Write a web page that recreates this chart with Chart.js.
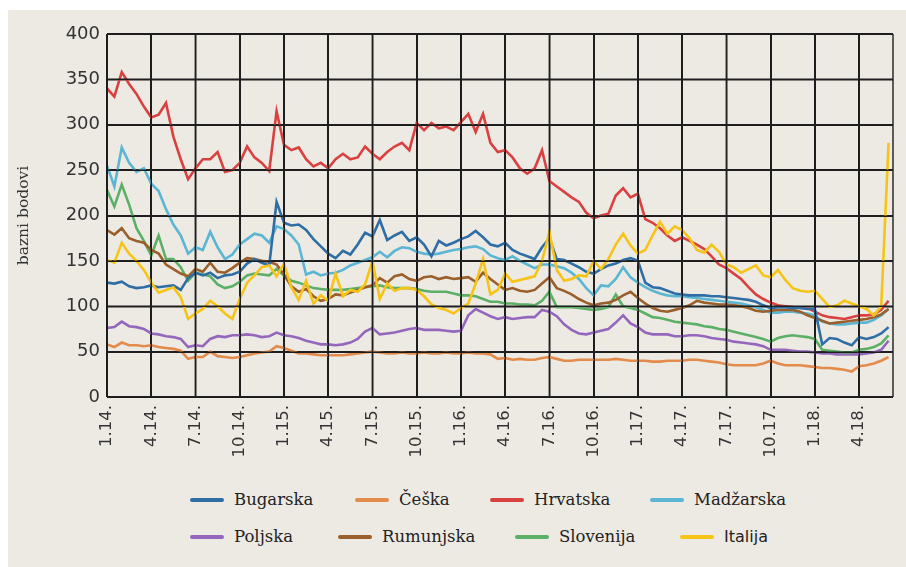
<!DOCTYPE html>
<html lang="hr">
<head>
<meta charset="utf-8">
<title>CDS premije</title>
<script src="https://cdn.jsdelivr.net/npm/chart.js@4.4.1/dist/chart.umd.min.js"></script>
<style>
  html, body { margin: 0; padding: 0; background: #fff; }
  #panel { position: absolute; left: 8px; top: 10px; width: 898px; height: 557px; background: #edeae4; }
  #wrap { position: absolute; left: 0; top: 0; width: 898px; height: 450px; }
  .lg-item {
    position: absolute; height: 20px; display: flex; align-items: center;
    font-family: "DejaVu Serif", serif; font-size: 16.5px; line-height: 20px;
    color: #222; white-space: nowrap;
  }
  .lg-item.sans { font-family: "DejaVu Sans", sans-serif; font-size: 16px; }
  .lg-line { width: 34px; height: 4px; border-radius: 2px; margin-right: 10px; }
</style>
</head>
<body>
<div id="panel">
  <div id="wrap"><canvas id="chart-cds"></canvas></div>
  <div id="legend"></div>
</div>
<script>
/* ── Axis data ───────────────────────────────────────────────── */
// x = months since January 2014, one reading every half month
const MONTHS = Array.from({ length: 107 }, (_, i) => i / 2);
const TICK_LABELS = [
    "1.14.", "4.14.", "7.14.", "10.14.",
    "1.15.", "4.15.", "7.15.", "10.15.",
    "1.16.", "4.16.", "7.16.", "10.16.",
    "1.17.", "4.17.", "7.17.", "10.17.",
    "1.18.", "4.18.",
];

/* ── Series (basis points), rows of five months ─────────────── */
const BUGARSKA = [
    126, 125, 127, 122, 120, 121, 123, 121, 122, 123,
    118, 131, 137, 134, 137, 131, 134, 135, 138, 147,
    152, 148, 145, 215, 192, 189, 190, 184, 174, 166,
    158, 153, 161, 157, 168, 181, 177, 195, 173, 178,
    182, 172, 176, 168, 155, 172, 167, 170, 174, 177,
    183, 176, 168, 166, 170, 162, 158, 155, 152, 165,
    175, 152, 151, 147, 143, 138, 136, 141, 145, 147,
    151, 153, 150, 126, 121, 120, 117, 114, 113, 112,
    112, 112, 111, 111, 110, 109, 108, 107, 105, 101,
    98, 99, 99, 98, 98, 97, 97, 58, 65, 64,
    60, 57, 66, 64, 66, 70, 77,
];
const CESKA = [
    58, 55, 60, 57, 57, 56, 57, 55, 54, 53,
    51, 42, 44, 44, 50, 45, 44, 43, 44, 46,
    48, 49, 50, 56, 54, 51, 48, 48, 47, 46,
    46, 46, 46, 47, 48, 49, 50, 49, 48, 48,
    49, 48, 48, 49, 48, 48, 49, 48, 48, 49,
    48, 48, 47, 42, 43, 41, 42, 41, 41, 43,
    44, 42, 40, 40, 41, 41, 41, 41, 41, 42,
    41, 40, 40, 40, 39, 39, 40, 40, 40, 41,
    41, 40, 39, 38, 36, 35, 35, 35, 35, 37,
    40, 37, 35, 35, 35, 34, 33, 32, 32, 31,
    30, 28, 34, 35, 37, 40, 44,
];
const HRVATSKA = [
    340, 331, 358, 345, 334, 320, 308, 311, 324, 287,
    262, 240, 252, 262, 262, 270, 248, 250, 258, 276,
    264, 258, 249, 315, 278, 272, 275, 262, 254, 258,
    252, 262, 268, 262, 264, 276, 268, 262, 270, 276,
    280, 272, 302, 294, 302, 296, 298, 294, 303, 312,
    292, 312, 280, 270, 272, 264, 252, 246, 252, 272,
    238, 232, 226, 220, 215, 203, 197, 200, 202, 222,
    230, 220, 224, 196, 192, 186, 178, 172, 176, 172,
    168, 163, 155, 146, 142, 136, 130, 121, 113, 108,
    104, 101, 100, 99, 98, 98, 94, 90, 88, 87,
    86, 88, 90, 90, 91, 96, 106,
];
const MADZARSKA = [
    255, 232, 275, 258, 248, 252, 235, 227, 207, 190,
    178, 158, 165, 162, 182, 165, 152, 157, 168, 174,
    180, 178, 170, 188, 185, 178, 168, 135, 138, 134,
    136, 137, 140, 145, 148, 151, 154, 160, 154, 161,
    165, 164, 160, 158, 157, 158, 160, 162, 163, 165,
    166, 163, 156, 153, 151, 155, 150, 146, 142, 146,
    146, 144, 142, 137, 130, 120, 112, 123, 122, 130,
    143, 132, 126, 121, 117, 114, 112, 111, 111, 110,
    109, 108, 107, 106, 105, 104, 103, 101, 99, 96,
    93, 93, 94, 94, 93, 92, 90, 83, 81, 80,
    80, 81, 82, 82, 85, 90, 97,
];
const POLJSKA = [
    76, 77, 83, 78, 77, 75, 70, 69, 67, 66,
    64, 55, 57, 56, 64, 67, 66, 68, 68, 69,
    68, 66, 67, 71, 68, 67, 65, 62, 60, 58,
    58, 57, 58, 60, 64, 72, 76, 69, 70, 71,
    73, 75, 76, 74, 74, 74, 73, 72, 73, 90,
    97, 93, 89, 86, 88, 86, 87, 88, 88, 96,
    94, 89, 80, 74, 70, 69, 71, 73, 75, 82,
    90, 81, 77, 71, 69, 69, 69, 67, 67, 68,
    68, 67, 65, 64, 63, 61, 60, 59, 58, 56,
    52, 52, 52, 51, 50, 50, 49, 48, 48, 47,
    47, 47, 47, 48, 49, 52, 62,
];
const RUMUNJSKA = [
    184, 179, 186, 175, 172, 170, 162, 158, 146, 141,
    136, 133, 141, 138, 148, 138, 137, 142, 148, 153,
    152, 150, 149, 146, 135, 122, 116, 119, 111, 106,
    108, 113, 112, 115, 118, 121, 123, 131, 126, 133,
    135, 130, 128, 132, 133, 130, 132, 130, 131, 132,
    127, 137, 130, 124, 118, 120, 117, 116, 118, 125,
    132, 120, 117, 113, 108, 104, 101, 103, 104, 107,
    112, 116, 109, 103, 98, 95, 94, 96, 98, 101,
    106, 104, 103, 102, 102, 101, 100, 98, 95, 94,
    95, 96, 96, 96, 94, 90, 87, 84, 81, 82,
    83, 84, 85, 86, 88, 91, 97,
];
const SLOVENIJA = [
    228, 210, 234, 212, 186, 172, 156, 178, 152, 152,
    143, 128, 137, 135, 133, 124, 120, 122, 127, 134,
    136, 135, 134, 141, 134, 128, 126, 123, 120, 119,
    118, 118, 118, 119, 120, 121, 122, 123, 121, 120,
    120, 120, 119, 117, 116, 116, 116, 114, 112, 112,
    111, 108, 105, 105, 103, 103, 102, 102, 101, 106,
    116, 99, 99, 99, 98, 97, 96, 97, 99, 113,
    100, 98, 96, 92, 88, 87, 85, 83, 82, 81,
    80, 78, 77, 75, 74, 72, 70, 68, 66, 64,
    61, 65, 67, 68, 67, 66, 64, 52, 51, 50,
    49, 49, 52, 53, 55, 59, 68,
];
const ITALIJA = [
    151, 148, 170, 158, 150, 140, 126, 115, 118, 121,
    110, 86, 92, 97, 106, 100, 92, 86, 108, 126,
    134, 143, 145, 133, 147, 121, 107, 128, 103, 112,
    106, 136, 111, 118, 116, 124, 150, 108, 125, 117,
    120, 120, 118, 111, 102, 98, 96, 92, 98, 103,
    125, 152, 113, 118, 136, 127, 129, 131, 133, 150,
    182, 140, 128, 130, 134, 133, 150, 141, 152, 168,
    180, 167, 158, 162, 178, 193, 180, 188, 184, 175,
    162, 159, 168, 160, 146, 143, 137, 141, 145, 134,
    132, 140, 129, 120, 117, 116, 117, 108, 99, 101,
    106, 103, 100, 97, 90, 100, 280,
];

/* ── Colours ─────────────────────────────────────────────────── */
const GRID_COLOR = "#1e1e1e";
const TICK_COLOR = "#333";

// z: drawing order (lower = on top), lx/ly: legend slot in the panel
const SERIES = [
    { name: "Bugarska",  data: BUGARSKA,  color: "#2f6ea5", z: 1, lx: 182, ly: 480 },
    { name: "Češka",     data: CESKA,     color: "#e38b4b", z: 7, lx: 347, ly: 480 },
    { name: "Hrvatska",  data: HRVATSKA,  color: "#d94141", z: 2, lx: 482, ly: 480 },
    { name: "Madžarska", data: MADZARSKA, color: "#5bb6d3", z: 4, lx: 642, ly: 480 },
    { name: "Poljska",   data: POLJSKA,   color: "#9467bd", z: 6, lx: 182, ly: 517 },
    { name: "Rumunjska", data: RUMUNJSKA, color: "#9a5f2a", z: 3, lx: 330, ly: 517 },
    { name: "Slovenija", data: SLOVENIJA, color: "#5cb066", z: 5, lx: 507, ly: 517 },
    { name: "Italija",   data: ITALIJA,   color: "#f6c416", z: 0, lx: 672, ly: 517, sans: true },
];

/* ── Grid + frame, stroked at the very end ──────────────────── */
// The built-in grid did not survive with all eight datasets here,
// so the lines are stroked last from the scales' own ticks.
const gridOnTop = {
    id: "gridOnTop",
    afterDraw(chart) {
        const { ctx, chartArea: a, scales: { x, y } } = chart;
        ctx.save();
        ctx.strokeStyle = GRID_COLOR;
        ctx.lineWidth = 1.4;
        ctx.beginPath();
        y.ticks.forEach(t => {
            const py = Math.round(y.getPixelForValue(t.value)) + 0.3;
            ctx.moveTo(a.left, py);
            ctx.lineTo(a.right, py);
        });
        x.ticks.forEach(t => {
            const px = Math.round(x.getPixelForValue(t.value)) + 0.3;
            ctx.moveTo(px, a.top);
            ctx.lineTo(px, a.bottom);
        });
        ctx.moveTo(a.right, a.top);
        ctx.lineTo(a.right, a.bottom);
        ctx.stroke();
        ctx.restore();
    }
};

/* ═══════════════════════════════════════════════════════════════
   LINE CHART — CDS premije
════════════════════════════════════════════════════════════════ */
const cdsChart = new Chart(document.getElementById("chart-cds"), {
    type: "line",
    data: {
        labels: MONTHS,
        datasets: SERIES.map(s => ({
            label: s.name, data: s.data, borderColor: s.color, backgroundColor: s.color,
            borderWidth: 2.6, pointRadius: 0, tension: 0, fill: false, order: s.z,
        })),
    },
    options: {
        responsive: true, maintainAspectRatio: false, animation: false,
        layout: { padding: { top: 24, right: 13, left: 0, bottom: 0 } },
        plugins: { legend: { display: false }, tooltip: { enabled: false } },
        scales: {
            x: {
                type: "linear", min: 0, max: 53.3,
                grid: { color: GRID_COLOR, lineWidth: 1.5, drawTicks: false },
                border: { display: false },
                ticks: {
                    stepSize: 3, includeBounds: false, autoSkip: false, minRotation: 90, maxRotation: 90,
                    padding: 8, color: TICK_COLOR, font: { family: "'DejaVu Sans', sans-serif", size: 16.5 },
                    callback: v => TICK_LABELS[Math.round(v / 3)] ?? "",
                },
                afterFit: s => { s.height = 63; },
            },
            y: {
                min: 0, max: 400,
                grid: { color: GRID_COLOR, lineWidth: 1.5, drawTicks: false },
                border: { display: false },
                ticks: { stepSize: 50, padding: 7, color: TICK_COLOR, font: { family: "'DejaVu Sans', sans-serif", size: 18 } },
                title: {
                    display: true, text: "bazni bodovi", color: TICK_COLOR, padding: { top: 7, bottom: 0 },
                    font: { family: "'DejaVu Serif', serif", size: 15.5 },
                },
                afterFit: s => { s.width = 99; },
            },
        },
    },
    plugins: [gridOnTop],
});

/* ── HTML legend, two rows ───────────────────────────────────── */
const legendEl = document.getElementById("legend");
SERIES.forEach(s => {
    const item = document.createElement("div");
    item.className = "lg-item" + (s.sans ? " sans" : "");
    item.style.left = s.lx + "px";
    item.style.top = s.ly + "px";
    const line = document.createElement("span");
    line.className = "lg-line";
    line.style.background = s.color;
    item.appendChild(line);
    item.appendChild(document.createTextNode(s.name));
    legendEl.appendChild(item);
});
</script>
</body>
</html>
